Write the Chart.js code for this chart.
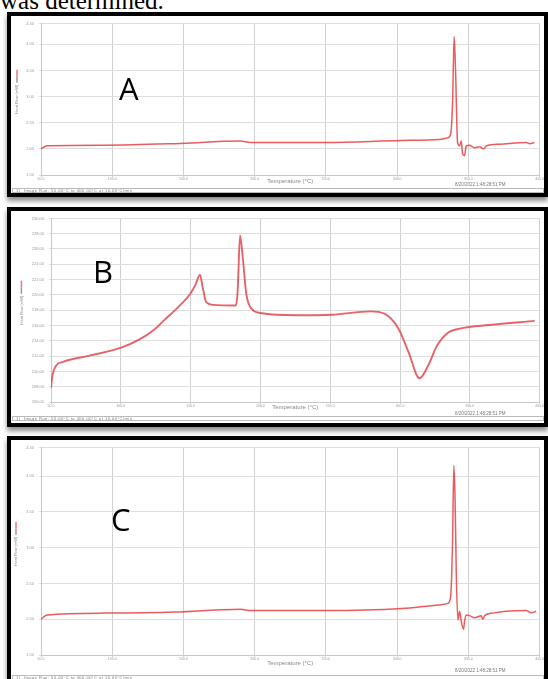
<!DOCTYPE html>
<html>
<head>
<meta charset="utf-8">
<script src="https://cdn.jsdelivr.net/npm/chart.js@4"></script>
<style>
  body { margin:0; width:548px; height:679px; overflow:hidden; background:#fff; position:relative; font-family:"Liberation Sans", sans-serif; }
  .intro { position:absolute; left:0; top:-12.5px; font-family:"Liberation Serif", serif; font-size:25px; line-height:25px; white-space:nowrap; color:#000; }
  .panel { position:absolute; left:7px; width:541px; box-sizing:border-box; border:4px solid #000; background:#fff; box-shadow:0 4px 5px rgba(0,0,0,0.45); }
  .panel canvas { position:absolute; left:0; top:0; }
  .tag { position:absolute; font-family:"Open Sans", sans-serif; font-size:31px; line-height:31px; color:#000; }
  .stamp { position:absolute; left:444px; font-size:4.5px; line-height:4px; color:#777; white-space:nowrap; }
  .status { position:absolute; left:1px; width:527px; height:3px; border:1px solid #bbb; font-size:4px; line-height:3px; color:#777; white-space:nowrap; padding-left:3px; letter-spacing:0.5px; }
</style>
</head>
<body>
<div class="intro">was determined.</div>

<div class="panel" style="top:12px; height:185px;">
  <canvas id="chartA" width="533" height="177"></canvas>
  <div class="tag" style="left:108px; top:56.5px;">A</div>
  <div class="stamp" style="top:167px;">8/20/2022 1:48:28:51 PM</div>
  <div class="status" style="top:172px;">1)&nbsp; Image Run: 50.00°C to 400.00°C at 10.00°C/min</div>
</div>

<div class="panel" style="top:207px; height:220px;">
  <canvas id="chartB" width="533" height="212"></canvas>
  <div class="tag" style="left:82px; top:44.5px;">B</div>
  <div class="stamp" style="top:201px;">8/20/2022 1:48:28:51 PM</div>
  <div class="status" style="top:205px;">1)&nbsp; Image Run: 50.00°C to 400.00°C at 10.00°C/min</div>
</div>

<div class="panel" style="top:436px; height:247px;">
  <canvas id="chartC" width="533" height="239"></canvas>
  <div class="tag" style="left:100px; top:64px;">C</div>
  <div class="stamp" style="top:229px;">8/20/2022 1:48:28:51 PM</div>
  <div class="status" style="top:235px;">1)&nbsp; Image Run: 50.00°C to 400.00°C at 10.00°C/min</div>
</div>

<script>
const xTicks = [50, 100, 150, 200, 250, 300, 350, 400];
const yTicksA = [1.5, 2.0, 2.5, 3.0, 3.5, 4.0, 4.4];
const yTicksB = [206, 208, 210, 212, 214, 216, 218, 220, 222, 224, 226, 228, 230];
const yTicksC = [1.5, 2.0, 2.5, 3.0, 3.5, 4.0, 4.4];

const tempA = [50.0, 54.2, 94.9, 144.0, 190.3, 196.6, 250.6, 303.2, 329.8, 335.4, 337.5, 338.9, 340.0, 341.0, 342.4, 343.8, 345.0, 345.9, 347.3, 348.5, 350.8, 354.3, 357.9, 360.7, 362.6, 371.9, 390.6, 392.9, 396.4];
const heatA = [2.00, 2.06, 2.07, 2.10, 2.15, 2.12, 2.12, 2.16, 2.18, 2.21, 2.28, 2.88, 4.15, 3.49, 2.12, 2.06, 2.15, 1.91, 1.87, 2.06, 2.07, 2.02, 2.04, 2.00, 2.06, 2.09, 2.12, 2.10, 2.12];

const tempB = [50.0, 51.0, 53.6, 58.6, 76.1, 99.8, 113.7, 123.6, 131.1, 141.1, 149.9, 153.6, 156.7, 158.7, 161.2, 166.2, 182.4, 183.7, 185.4, 187.4, 189.9, 193.7, 200.0, 226.2, 251.3, 278.8, 288.8, 298.8, 306.3, 313.9, 320.1, 326.3, 333.9, 343.8, 363.9, 396.5];
const heatB = [207.83, 209.45, 210.73, 211.24, 212.0, 213.07, 214.22, 215.42, 216.7, 218.4, 220.19, 221.37, 222.65, 220.95, 219.04, 218.69, 218.61, 220.53, 227.76, 224.79, 220.1, 218.18, 217.63, 217.34, 217.41, 217.85, 217.54, 215.62, 212.43, 209.1, 210.73, 213.28, 214.98, 215.62, 216.06, 216.61];

const tempC = [50.0, 54.2, 94.9, 144.0, 190.3, 196.6, 250.6, 303.2, 329.8, 335.4, 337.5, 338.9, 339.8, 340.7, 341.5, 342.6, 343.8, 345.0, 346.6, 347.3, 348.5, 350.8, 354.3, 359.0, 360.2, 361.4, 367.2, 376.6, 390.6, 394.1, 397.6];
const heatC = [2.00, 2.06, 2.085, 2.10, 2.14, 2.12, 2.12, 2.15, 2.20, 2.22, 2.31, 3.09, 4.15, 3.64, 2.64, 1.99, 2.11, 1.97, 1.86, 1.97, 2.06, 2.05, 2.02, 2.05, 2.00, 2.05, 2.085, 2.11, 2.12, 2.09, 2.11];

function makeChart(id, temps, heats, yTicks, o) {
    // little red/grey line sample above the rotated y title
    const mark = {
        id: 'mark' + id,
        afterDraw(chart) {
            const s = chart.scales.y, a = chart.chartArea, c = chart.ctx;
            c.save();
            c.font = '4px "Liberation Sans"';
            const half = c.measureText('Heat Flow (mW)').width / 2;
            const x = s.left + o.yTitlePad + 2.4;
            const top = (a.top + a.bottom) / 2 - half - 2;
            c.lineWidth = 1.5;
            c.strokeStyle = '#999';
            c.beginPath(); c.moveTo(x, top); c.lineTo(x, top - 6); c.stroke();
            c.strokeStyle = '#f07080';
            c.beginPath(); c.moveTo(x, top - 6); c.lineTo(x, top - 13); c.stroke();
            c.restore();
        }
    };

    new Chart(document.getElementById(id), {
        type: 'line',
        data: {
            datasets: [{
                label: 'Heat Flow (mW)',
                data: temps.map((t, i) => ({x: t, y: heats[i]})),
                borderColor: o.color,
                borderWidth: o.width,
                pointRadius: 0,
                cubicInterpolationMode: 'monotone',
                fill: false
            }]
        },
        options: {
            responsive: false,
            animation: false,
            events: [],
            layout: { padding: { left: 0, top: o.top, right: 4, bottom: o.bottom } },
            plugins: { legend: { display: false }, tooltip: { enabled: false } },
            scales: {
                x: {
                    type: 'linear',
                    min: xTicks[0],
                    max: xTicks[xTicks.length - 1],
                    afterBuildTicks: s => { s.ticks = xTicks.map(v => ({value: v})); },
                    afterFit: s => { s.height = o.xHeight; },
                    grid: { color: '#d0d0d0', tickLength: 2 },
                    border: { color: '#c8c8c8' },
                    ticks: { font: { size: 3.5 }, color: '#999', padding: 0, maxRotation: 0, autoSkip: false,
                             callback: v => Number(v).toFixed(1) },
                    title: { display: true, text: 'Temperature (°C)', font: { size: 6 }, color: '#888',
                             padding: { top: 0, bottom: o.xTitlePad } }
                },
                y: {
                    min: yTicks[0],
                    max: yTicks[yTicks.length - 1],
                    afterBuildTicks: s => { s.ticks = yTicks.map(v => ({value: v})); },
                    afterFit: s => { s.width = o.yWidth; },
                    grid: { color: '#dedede', tickLength: 2 },
                    border: { color: '#c8c8c8' },
                    ticks: { font: { size: 4 }, color: '#999', padding: 5, callback: v => Number(v).toFixed(2) },
                    title: { display: true, text: 'Heat Flow (mW)', font: { size: 4 }, color: '#888',
                             padding: { top: o.yTitlePad, bottom: 0 } }
                }
            }
        },
        plugins: [mark]
    });
}

makeChart('chartA', tempA, heatA, yTicksA,
    { yWidth: 30, yTitlePad: 3.6, top: 1, bottom: 7, xHeight: 11, xTitlePad: 1, color: 'rgba(232,62,66,0.85)', width: 1.5 });
makeChart('chartB', tempB, heatB, yTicksB,
    { yWidth: 40, yTitlePad: 8, top: 3, bottom: 12, xHeight: 9, xTitlePad: 0.4, color: 'rgba(226,72,78,0.85)', width: 1.9 });
makeChart('chartC', tempC, heatC, yTicksC,
    { yWidth: 30, yTitlePad: 2.6, top: 4, bottom: 12, xHeight: 12, xTitlePad: 0.4, color: 'rgba(232,62,66,0.85)', width: 1.5 });
</script>
</body>
</html>
